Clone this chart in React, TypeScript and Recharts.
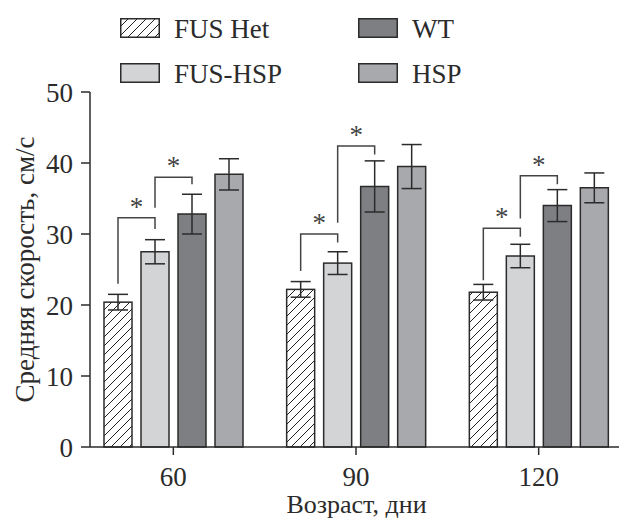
import React from "react";
import { BarChart, Bar, XAxis, YAxis, ErrorBar, Legend } from "recharts";

const ages = ["60", "90", "120"];
const fusHet = [20.4, 22.2, 21.8];
const fusHetErr = [1.1, 1.1, 1.1];
const fusHsp = [27.5, 25.9, 26.9];
const fusHspErr = [1.7, 1.6, 1.65];
const wt = [32.8, 36.7, 34.0];
const wtErr = [2.8, 3.6, 2.25];
const hsp = [38.4, 39.5, 36.5];
const hspErr = [2.2, 3.1, 2.1];

// significance brackets (value units): left leg start, bracket top, right leg end
const brA_from = [23.0, 24.8, 23.5];
const brA_top = [32.3, 30.0, 30.8];
const brA_to = [30.7, 28.8, 29.6];
const brB_from = [33.7, 31.6, 32.2];
const brB_top = [38.0, 42.4, 38.2];
const brB_to = [37.0, 41.2, 37.0];

const data = ages.map((age, i) => ({
  age,
  fusHet: fusHet[i], fusHetErr: fusHetErr[i],
  fusHsp: fusHsp[i], fusHspErr: fusHspErr[i],
  wt: wt[i], wtErr: wtErr[i],
  hsp: hsp[i], hspErr: hspErr[i],
  brA: [brA_from[i], brA_top[i], brA_to[i]],
  brB: [brB_from[i], brB_top[i], brB_to[i]],
}));

const FONT = "Liberation Serif";
const INK = "#2b2b2b";
const BAR_SIZE = 28;
const BAR_GAP = 9;

const series = [
  { key: "fusHet", name: "FUS Het", fill: "url(#hatch)" },
  { key: "fusHsp", name: "FUS-HSP", fill: "#d3d4d6" },
  { key: "wt", name: "WT", fill: "#7e7f83" },
  { key: "hsp", name: "HSP", fill: "#a8a9ac" },
];

const Hatch = () => (
  <defs>
    <pattern id="hatch" patternUnits="userSpaceOnUse" width="9" height="9">
      <rect width="9" height="9" fill="#fff" />
      <path d="M0,9 L9,0 M-2,2 L2,-2 M7,11 L11,7" stroke="#222" strokeWidth="1" />
    </pattern>
  </defs>
);

const withBracket = (field: string, bracketKey: string, fill: string) => (props: any) => {
  const { x, y, width, height, payload } = props;
  const base = y + height;
  const unit = height / payload[field];
  const toY = (v: number) => base - v * unit;
  const [from, top, to] = payload[bracketKey];
  const x1 = x + width / 2;
  const x2 = x1 + width + BAR_GAP;
  const yt = toY(top);
  return (
    <g>
      <Hatch />
      <rect x={x} y={y} width={width} height={height} fill={fill} stroke={INK} strokeWidth={1.5} />
      <path
        d={`M${x1},${toY(from)} L${x1},${yt} L${x2},${yt} L${x2},${toY(to)}`}
        fill="none"
        stroke="#444"
        strokeWidth={1.5}
      />
      <text x={(x1 + x2) / 2} y={yt - 2} textAnchor="middle" fontSize={27} fontFamily={FONT} fill="#444">
        *
      </text>
    </g>
  );
};

const LegendContent = () => {
  const order = [series[0], series[2], series[1], series[3]];
  return (
    <div
      style={{
        display: "grid",
        gridTemplateColumns: "238px 200px",
        rowGap: 25,
        paddingLeft: 120,
        paddingTop: 18,
        fontFamily: FONT,
        fontSize: 27,
        color: INK,
      }}
    >
      {order.map((s) => (
        <div key={s.key} style={{ display: "flex", alignItems: "center", height: 20 }}>
          <svg width={40} height={20} style={{ marginRight: 14 }}>
            <Hatch />
            <rect x={0.75} y={0.75} width={38.5} height={18.5} fill={s.fill} stroke={INK} strokeWidth={1.5} />
          </svg>
          <span style={{ lineHeight: "20px", position: "relative", top: 1 }}>{s.name}</span>
        </div>
      ))}
    </div>
  );
};

const YTitle = ({ viewBox }: any) => {
  const cx = viewBox.x + 25;
  const cy = viewBox.y + viewBox.height / 2;
  return (
    <text
      x={cx}
      y={cy}
      transform={`rotate(-90 ${cx} ${cy})`}
      textAnchor="middle"
      dominantBaseline="central"
      fontSize={27}
      fontFamily={FONT}
      fill={INK}
    >
      Средняя скорость, см/с
    </text>
  );
};

const XTitle = ({ viewBox }: any) => (
  <text
    x={viewBox.x + viewBox.width / 2 + 2}
    y={viewBox.y + 66}
    textAnchor="middle"
    fontSize={26}
    fontFamily={FONT}
    fill={INK}
  >
    Возраст, дни
  </text>
);

const tickStyle = { fontSize: 27, fill: INK, fontFamily: FONT };

export default function App() {
  return (
    <div style={{ position: "absolute", left: 0, top: 0, width: 619, height: 521, overflow: "hidden", background: "#fff" }}>
      <BarChart
        width={619}
        height={521}
        data={data}
        margin={{ top: 92, right: 0, bottom: 0, left: 0 }}
        barSize={BAR_SIZE}
        barGap={BAR_GAP}
      >
        <XAxis
          dataKey="age"
          height={74}
          padding={{ left: -8, right: -11 }}
          tick={tickStyle}
          tickSize={8}
          tickMargin={12}
          tickLine={{ stroke: INK, strokeWidth: 1.5 }}
          axisLine={{ stroke: INK, strokeWidth: 1.5 }}
          label={{ content: XTitle }}
        />
        <YAxis
          width={90}
          domain={[0, 50]}
          ticks={[0, 10, 20, 30, 40, 50]}
          tick={tickStyle}
          tickSize={9}
          tickMargin={8}
          tickLine={{ stroke: INK, strokeWidth: 1.5 }}
          axisLine={{ stroke: INK, strokeWidth: 1.5 }}
          label={{ content: YTitle }}
        />
        <Legend
          verticalAlign="middle"
          align="center"
          layout="horizontal"
          wrapperStyle={{ top: 0, left: 0, width: 619 }}
          content={LegendContent}
        />
        <Bar dataKey="fusHet" name="FUS Het" isAnimationActive={false} shape={withBracket("fusHet", "brA", "url(#hatch)")}>
          <ErrorBar dataKey="fusHetErr" width={10} stroke={INK} strokeWidth={1.5} />
        </Bar>
        <Bar dataKey="fusHsp" name="FUS-HSP" isAnimationActive={false} shape={withBracket("fusHsp", "brB", "#d3d4d6")}>
          <ErrorBar dataKey="fusHspErr" width={10} stroke={INK} strokeWidth={1.5} />
        </Bar>
        <Bar dataKey="wt" name="WT" fill="#7e7f83" stroke={INK} strokeWidth={1.5} isAnimationActive={false}>
          <ErrorBar dataKey="wtErr" width={10} stroke={INK} strokeWidth={1.5} />
        </Bar>
        <Bar dataKey="hsp" name="HSP" fill="#a8a9ac" stroke={INK} strokeWidth={1.5} isAnimationActive={false}>
          <ErrorBar dataKey="hspErr" width={10} stroke={INK} strokeWidth={1.5} />
        </Bar>
      </BarChart>
    </div>
  );
}
